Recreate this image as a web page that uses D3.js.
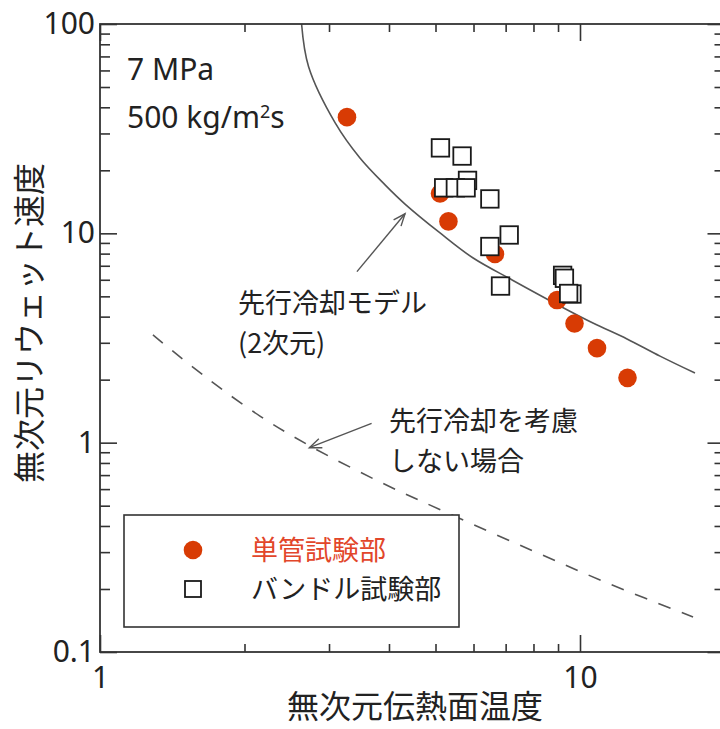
<!DOCTYPE html>
<html>
<head>
<meta charset="utf-8">
<script src="https://cdnjs.cloudflare.com/ajax/libs/d3/7.8.5/d3.min.js"></script>
<style>
  body { margin: 0; background: #fff; }
  text { font-family: "Noto Sans CJK JP", "Noto Sans", sans-serif; }
</style>
</head>
<body>
<div id="chart"></div>
<script>
// data
var singleX = [3.27, 5.11, 5.32, 6.65, 8.96, 9.74, 10.85, 12.56];
var singleY = [35.9, 15.5, 11.4, 7.97, 4.80, 3.71, 2.83, 2.04];

var bundleX = [5.12, 5.68, 5.83, 5.20, 5.50, 5.79, 6.49, 7.12, 6.49, 6.83, 9.20, 9.28, 9.62, 9.47];
var bundleY = [25.6, 23.4, 17.9, 16.5, 16.5, 16.5, 14.6, 9.82, 8.65, 5.60, 6.30, 6.10, 5.13, 5.16];

// 先行冷却モデル (2次元)
var modelX = [2.63, 2.72, 3.09, 3.48, 3.93, 4.32, 5.11, 5.99, 7.22, 9.08, 10.64, 12.53, 14.68, 17.36];
var modelY = [100, 62.5, 33.7, 22.9, 17.0, 13.8, 10.04, 7.62, 5.99, 4.50, 3.73, 3.13, 2.59, 2.15];

// 先行冷却を考慮しない場合
var noPreX = [1.289, 1.668, 2.154, 2.739, 3.831, 5.359, 7.98, 11.55, 17.2];
var noPreY = [3.27, 2.04, 1.34, 0.964, 0.649, 0.456, 0.304, 0.211, 0.147];

var xMajor = [1, 10];
var xMinor = [2, 3, 4, 5, 6, 7, 8, 9, 20];
var yMajor = [0.1, 1, 10, 100];
var yMinor = [0.2, 0.3, 0.4, 0.5, 0.6, 0.7, 0.8, 0.9, 2, 3, 4, 5, 6, 7, 8, 9, 20, 30, 40, 50, 60, 70, 80, 90];

var svgWidth = 720;
var svgHeight = 729;

var margin = { top: 24, left: 100 };
var width = 480 * Math.log10(20);
var height = 628;

var svg = d3.select("#chart")
  .append("svg")
  .attr("width", svgWidth)
  .attr("height", svgHeight);

var chartGroup = svg.append("g")
  .attr("transform", `translate(${margin.left}, ${margin.top})`);

var xScale = d3.scaleLog().domain([1, 20]).range([0, width]);
var yScale = d3.scaleLog().domain([0.1, 100]).range([height, 0]);

svg.append("defs").append("clipPath").attr("id", "clip")
  .append("rect").attr("width", width).attr("height", height);

// curves
var line = d3.line()
  .x(d => xScale(d[0]))
  .y(d => yScale(d[1]))
  .curve(d3.curveCatmullRom.alpha(0.5));

var curves = chartGroup.append("g").attr("clip-path", "url(#clip)");

curves.append("path")
  .datum(d3.zip(modelX, modelY))
  .attr("d", line)
  .attr("fill", "none")
  .attr("stroke", "#555")
  .attr("stroke-width", 1.6);

curves.append("path")
  .datum(d3.zip(noPreX, noPreY))
  .attr("d", line)
  .attr("fill", "none")
  .attr("stroke", "#555")
  .attr("stroke-width", 1.6)
  .attr("stroke-dasharray", "13,12");

// annotation arrows (tail -> tip, in data units)
var arrows = [
  { from: [3.43, 6.56], to: [4.32, 12.4], label: ["先行冷却モデル", "(2次元)"], lx: 238, ly: 313 },
  { from: [3.68, 1.237], to: [2.73, 0.946], label: ["先行冷却を考慮", "しない場合"], lx: 389, ly: 431 }
];

arrows.forEach(function(a) {
  var x1 = xScale(a.from[0]), y1 = yScale(a.from[1]);
  var x2 = xScale(a.to[0]), y2 = yScale(a.to[1]);
  var ang = Math.atan2(y2 - y1, x2 - x1);
  var len = 13, spread = 0.38;
  chartGroup.append("line")
    .attr("x1", x1).attr("y1", y1).attr("x2", x2).attr("y2", y2)
    .attr("stroke", "#555").attr("stroke-width", 1.4);
  chartGroup.append("path")
    .attr("d", `M${x2 - len * Math.cos(ang - spread)},${y2 - len * Math.sin(ang - spread)}L${x2},${y2}L${x2 - len * Math.cos(ang + spread)},${y2 - len * Math.sin(ang + spread)}`)
    .attr("fill", "none").attr("stroke", "#555").attr("stroke-width", 1.4);
  svg.append("text")
    .attr("x", a.lx).attr("y", a.ly)
    .attr("font-size", 27).attr("fill", "#222")
    .text(a.label[0]);
  svg.append("text")
    .attr("x", a.lx).attr("y", a.ly + 40)
    .attr("font-size", 27).attr("fill", "#222")
    .text(a.label[1]);
});

// single tube points
chartGroup.selectAll(".single")
  .data(d3.zip(singleX, singleY))
  .enter()
  .append("circle")
  .attr("class", "single")
  .attr("cx", d => xScale(d[0]))
  .attr("cy", d => yScale(d[1]))
  .attr("r", 9.3)
  .attr("fill", "#d83b04");

// bundle points
var sq = 17.5;
chartGroup.selectAll(".bundle")
  .data(d3.zip(bundleX, bundleY))
  .enter()
  .append("rect")
  .attr("class", "bundle")
  .attr("x", d => xScale(d[0]) - sq / 2)
  .attr("y", d => yScale(d[1]) - sq / 2)
  .attr("width", sq)
  .attr("height", sq)
  .attr("fill", "#fff")
  .attr("stroke", "#1a1a1a")
  .attr("stroke-width", 1.8);

// axes, ticks inside
function styleAxis(g) {
  g.select(".domain").remove();
  g.selectAll(".tick line").attr("stroke", "#333").attr("stroke-width", 1.6);
  g.selectAll(".tick text").attr("font-size", 30).attr("fill", "#222")
    .style("font-family", "'Noto Sans', sans-serif");
}

chartGroup.append("g")
  .attr("transform", `translate(0, ${height})`)
  .call(d3.axisBottom(xScale).tickValues(xMajor).tickSize(-17).tickPadding(15).tickFormat(d3.format("")))
  .call(styleAxis);
chartGroup.append("g")
  .attr("transform", `translate(0, ${height})`)
  .call(d3.axisBottom(xScale).tickValues(xMinor).tickSize(-8).tickFormat(""))
  .call(styleAxis);
chartGroup.append("g")
  .call(d3.axisTop(xScale).tickValues(xMajor).tickSize(-17).tickFormat(""))
  .call(styleAxis);
chartGroup.append("g")
  .call(d3.axisTop(xScale).tickValues(xMinor).tickSize(-8).tickFormat(""))
  .call(styleAxis);

chartGroup.append("g")
  .call(d3.axisLeft(yScale).tickValues(yMajor).tickSize(-17).tickPadding(5).tickFormat(d3.format("")))
  .call(styleAxis);
chartGroup.append("g")
  .call(d3.axisLeft(yScale).tickValues(yMinor).tickSize(-10).tickFormat(""))
  .call(styleAxis);
chartGroup.append("g")
  .attr("transform", `translate(${width}, 0)`)
  .call(d3.axisRight(yScale).tickValues(yMajor).tickSize(-17).tickFormat(""))
  .call(styleAxis);
chartGroup.append("g")
  .attr("transform", `translate(${width}, 0)`)
  .call(d3.axisRight(yScale).tickValues(yMinor).tickSize(-10).tickFormat(""))
  .call(styleAxis);

chartGroup.append("rect")
  .attr("width", width).attr("height", height)
  .attr("fill", "none").attr("stroke", "#333").attr("stroke-width", 1.8);

// condition text
svg.append("text")
  .attr("x", 127).attr("y", 80)
  .attr("font-size", 30).attr("fill", "#222")
  .style("font-family", "'Noto Sans', sans-serif")
  .text("7 MPa");
var cond = svg.append("text")
  .attr("x", 127).attr("y", 128)
  .attr("font-size", 30).attr("fill", "#222")
  .style("font-family", "'Noto Sans', sans-serif");
cond.append("tspan").text("500 kg/m");
cond.append("tspan").attr("font-size", 18).attr("dy", -10).text("2");
cond.append("tspan").attr("dy", 10).text("s");

// legend
var legend = svg.append("g");
legend.append("rect")
  .attr("x", 124).attr("y", 515).attr("width", 335).attr("height", 112)
  .attr("fill", "#fff").attr("stroke", "#333").attr("stroke-width", 1.6);
legend.append("circle")
  .attr("cx", 193).attr("cy", 550).attr("r", 9.3).attr("fill", "#d83b04");
legend.append("rect")
  .attr("x", 193 - 8).attr("y", 589 - 8).attr("width", 16).attr("height", 16)
  .attr("fill", "#fff").attr("stroke", "#1a1a1a").attr("stroke-width", 1.8);
legend.append("text")
  .attr("x", 251).attr("y", 560)
  .attr("font-size", 27).attr("fill", "#e2462a")
  .text("単管試験部");
legend.append("text")
  .attr("x", 251).attr("y", 599)
  .attr("font-size", 27).attr("fill", "#222")
  .text("バンドル試験部");

// axis titles
svg.append("text")
  .attr("x", 415).attr("y", 718)
  .attr("text-anchor", "middle")
  .attr("font-size", 32).attr("fill", "#222")
  .text("無次元伝熱面温度");

svg.append("text")
  .attr("transform", "translate(41, 323) rotate(-90)")
  .attr("text-anchor", "middle")
  .attr("font-size", 32).attr("fill", "#222")
  .text("無次元リウェット速度");
</script>
</body>
</html>
